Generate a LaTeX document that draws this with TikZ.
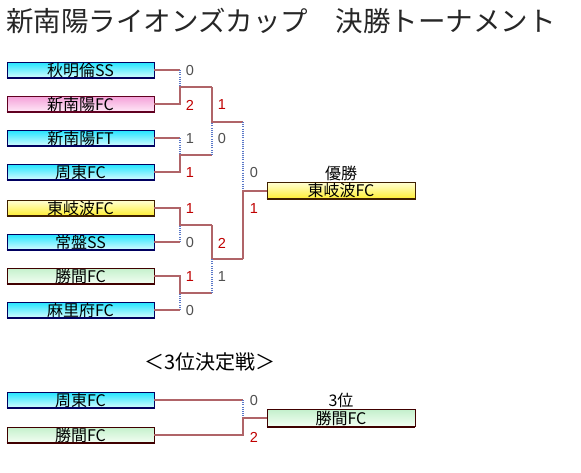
\documentclass[tikz,border=0pt]{standalone}
\usepackage{fontspec}
\newfontfamily\jp{Noto Sans CJK JP}
\newfontfamily\lat{Liberation Sans}
\definecolor{linebr}{HTML}{B06468}
\definecolor{dotbl}{HTML}{5A78C8}
\definecolor{winred}{HTML}{C00000}
\definecolor{losegr}{HTML}{505050}
\definecolor{cyanT}{HTML}{20E4FF}
\definecolor{cyanB}{HTML}{D8FCFF}
\definecolor{cyanE}{HTML}{000060}
\definecolor{pinkT}{HTML}{F4A0D8}
\definecolor{pinkB}{HTML}{FFEAF8}
\definecolor{pinkE}{HTML}{600020}
\definecolor{yelT}{HTML}{FFFFD8}
\definecolor{yelB}{HTML}{FFEE30}
\definecolor{yelE}{HTML}{402000}
\definecolor{grnT}{HTML}{C4F0CC}
\definecolor{grnB}{HTML}{F4FFF4}
\definecolor{grnE}{HTML}{400000}
\tikzset{
  box/.style={rectangle, minimum width=147pt, minimum height=16pt, inner sep=0pt,
    line width=0.8pt, font=\jp\fontsize{16}{16}\selectfont},
  cyanbox/.style={box, top color=cyanT, bottom color=cyanB, draw=cyanE},
  cyanbox-edge/.style={line width=2pt, draw=cyanE},
  pinkbox/.style={box, top color=pinkT, bottom color=pinkB, draw=pinkE},
  pinkbox-edge/.style={line width=2pt, draw=pinkE},
  yelbox/.style={box, top color=yelT, bottom color=yelB, draw=yelE},
  yelbox-edge/.style={line width=2pt, draw=yelE},
  grnbox/.style={box, top color=grnT, bottom color=grnB, draw=grnE},
  grnbox-edge/.style={line width=2pt, draw=grnE},
  brline/.style={draw=linebr, line width=2pt},
  dotline/.style={draw=dotbl, line width=1.2pt, dash pattern=on 1pt off 1.2pt},
  wscore/.style={text=winred, font=\lat\fontsize{14.5}{14.5}\selectfont, inner sep=0pt},
  lscore/.style={text=losegr, font=\lat\fontsize{14.5}{14.5}\selectfont, inner sep=0pt},
  label/.style={font=\jp\fontsize{16}{16}\selectfont, inner sep=0pt}
}
\newcommand\tbox[4]{\node[#3] (#1) at (80.5,#2) {#4};
  \draw[#3-edge] (#1.south west) -- (#1.south east);}
\begin{document}
\begin{tikzpicture}[x=1pt,y=-1pt]
\useasboundingbox[fill=white] (0,0) rectangle (581,472);
% title
\node[anchor=west, inner sep=0pt, text=black!85, font=\jp\fontsize{27.5}{27.5}\selectfont] (title) at (6,21)
  {新南陽ライオンズカップ　決勝トーナメント};
% teams
\tbox{t1}{70}{cyanbox}{秋明倫SS}
\tbox{t2}{104}{pinkbox}{新南陽FC}
\tbox{t3}{138}{cyanbox}{新南陽FT}
\tbox{t4}{172}{cyanbox}{周東FC}
\tbox{t5}{208}{yelbox}{東岐波FC}
\tbox{t6}{242}{cyanbox}{常盤SS}
\tbox{t7}{276}{grnbox}{勝間FC}
\tbox{t8}{310}{cyanbox}{麻里府FC}
% final box
\node[yelbox, minimum width=148pt, minimum height=17pt] (f1) at (341,190.5) {東岐波FC};
\draw[yelbox-edge] (f1.south west) -- (f1.south east);
\node[label] (win1) at (341,173) {優勝};
% junction points
\coordinate (a1) at (180,87);
\coordinate (a2) at (180,155);
\coordinate (a3) at (180,225);
\coordinate (a4) at (180,293);
\coordinate (b1) at (212,122);
\coordinate (b2) at (212,259);
\coordinate (c) at (243,190.5);
% round 1
\draw[brline] (t1.east) -- (t1.east -| a1);
\draw[dotline] (t1.east -| a1) -- (a1);
\draw[brline] (t2.east) -| (a1) -- (a1 -| b1);
\draw[brline] (t3.east) -- (t3.east -| a2);
\draw[dotline] (t3.east -| a2) -- (a2);
\draw[brline] (t4.east) -| (a2) -- (a2 -| b1);
\draw[brline] (t5.east) -| (a3) -- (a3 -| b2);
\draw[dotline] (t6.east -| a3) -- (a3);
\draw[brline] (t6.east) -- (t6.east -| a3);
\draw[brline] (t7.east) -| (a4) -- (a4 -| b2);
\draw[dotline] (t8.east -| a4) -- (a4);
\draw[brline] (t8.east) -- (t8.east -| a4);
% round 2
\draw[brline] (a1 -| b1) -- (b1) -- (b1 -| c);
\draw[dotline] (a2 -| b1) -- (b1);
\draw[brline] (a3 -| b2) -- (b2) -- (b2 -| c);
\draw[dotline] (a4 -| b2) -- (b2);
% final
\draw[dotline] (b1 -| c) -- (c);
\draw[brline] (b2 -| c) -- (c) -- (f1.west);
% scores round 1
\node[lscore] (s1) at (190,71) {0};
\node[wscore] (s2) at (190,105) {2};
\node[lscore] (s3) at (190,139) {1};
\node[wscore] (s4) at (190,173) {1};
\node[wscore] (s5) at (190,209) {1};
\node[lscore] (s6) at (190,243) {0};
\node[wscore] (s7) at (190,277) {1};
\node[lscore] (s8) at (190,311) {0};
% scores round 2
\node[wscore] (r1) at (222,105) {1};
\node[lscore] (r2) at (222,139) {0};
\node[wscore] (r3) at (222,243) {2};
\node[lscore] (r4) at (222,277) {1};
% scores final
\node[lscore] (q1) at (254,173) {0};
\node[wscore] (q2) at (254,209) {1};
% third place
\node[font=\jp\fontsize{20}{20}\selectfont, inner sep=0pt] (third) at (210,362) {＜3位決定戦＞};
\tbox{t9}{400}{cyanbox}{周東FC}
\tbox{t10}{435}{grnbox}{勝間FC}
\node[grnbox, minimum width=148pt, minimum height=17pt] (f2) at (341,418) {勝間FC};
\draw[grnbox-edge] (f2.south west) -- (f2.south east);
\node[label] (win3) at (341,400) {3位};
\coordinate (d) at (243,418);
\draw[brline] (t9.east) -- (t9.east -| d);
\draw[dotline] (t9.east -| d) -- (d);
\draw[brline] (t10.east) -| (d) -- (f2.west);
\node[lscore] (p1) at (254,401) {0};
\node[wscore] (p2) at (254,437) {2};
\end{tikzpicture}
\end{document}
